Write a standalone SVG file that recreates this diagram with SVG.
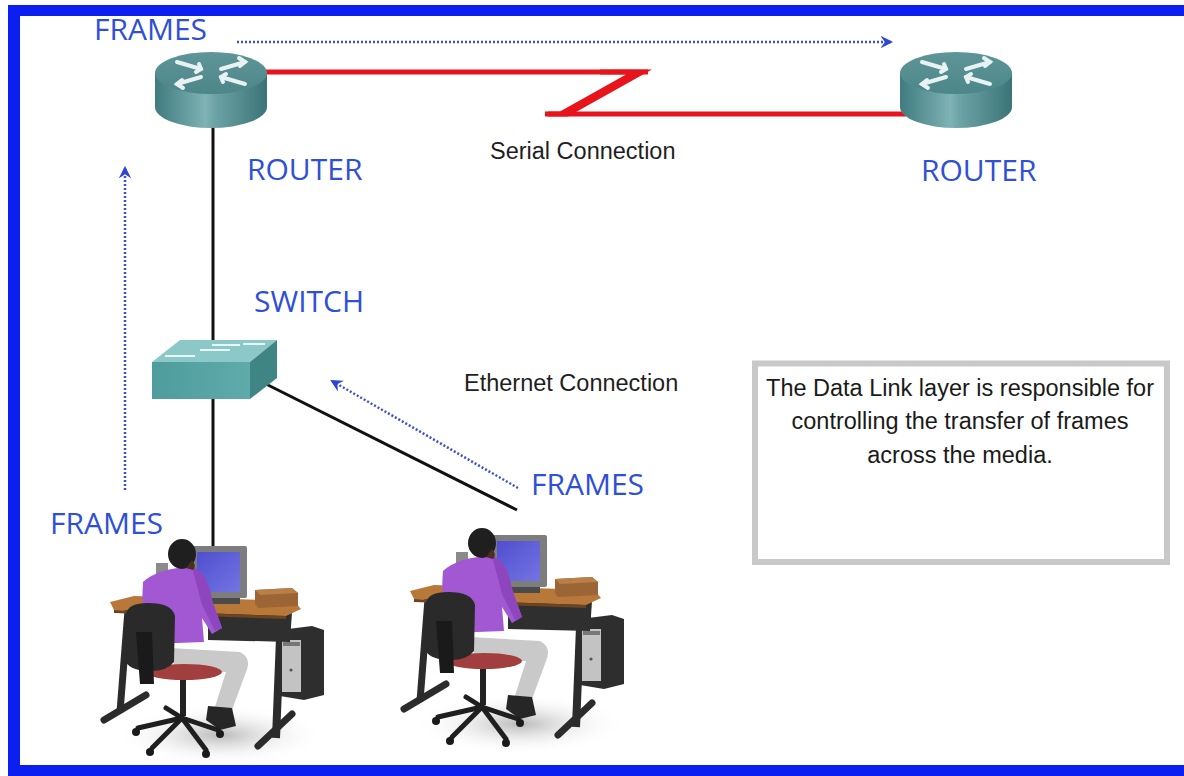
<svg xmlns="http://www.w3.org/2000/svg" width="1184" height="776" viewBox="0 0 1184 776">
  <style>
    .lbl { font-family: "Open Sans", "Liberation Sans", sans-serif; font-size: 30px; fill: #2f4fd6; }
    .cap { font-family: "Liberation Sans", Arial, sans-serif; font-size: 23.5px; fill: #1e1e1e; }
    .note { font-family: "Liberation Sans", Arial, sans-serif; font-size: 23.5px; fill: #1a1a1a; text-anchor: middle; }
    .wire { stroke: #111; stroke-width: 3; fill: none; }
    .flow { stroke: #3a4ed0; stroke-width: 2.5; stroke-dasharray: 2 2; fill: none; }
  </style>
  <defs>
    <marker id="flowHead" viewBox="0 0 12 12" refX="10" refY="6" markerWidth="5" markerHeight="5" orient="auto" markerUnits="strokeWidth">
      <path d="M0,0 L12,6 L0,12 L4,6 Z" fill="#2f45d4"/>
    </marker>
    <linearGradient id="routerBody" x1="0" x2="1" y1="0" y2="0">
      <stop offset="0" stop-color="#3f7b7f"/>
      <stop offset="0.45" stop-color="#7fb2b4"/>
      <stop offset="0.55" stop-color="#6aa1a4"/>
      <stop offset="1" stop-color="#3b7478"/>
    </linearGradient>
    <linearGradient id="routerTop" x1="0" x2="0" y1="0" y2="1">
      <stop offset="0" stop-color="#5f9598"/>
      <stop offset="1" stop-color="#4c8689"/>
    </linearGradient>
    <linearGradient id="switchFront" x1="0" x2="1" y1="0" y2="0">
      <stop offset="0" stop-color="#4f9c9c"/>
      <stop offset="1" stop-color="#5fabab"/>
    </linearGradient>
    <radialGradient id="floorShade" cx="0.5" cy="0.5" r="0.5">
      <stop offset="0" stop-color="#b8b8b8"/>
      <stop offset="1" stop-color="#ffffff" stop-opacity="0"/>
    </radialGradient>
    <linearGradient id="screen" x1="0" x2="1" y1="0" y2="1">
      <stop offset="0" stop-color="#4f4fd0"/>
      <stop offset="1" stop-color="#7474e2"/>
    </linearGradient>

    <!-- router: cylinder with four white arrows on the lid -->
    <g id="router">
      <path d="M-56,0 L-56,34 A56,21 0 0 0 56,34 L56,0 Z" fill="url(#routerBody)"/>
      <ellipse cx="0" cy="0" rx="56" ry="21" fill="url(#routerTop)"/>
      <g stroke="#e8f2f2" stroke-width="4" stroke-linecap="round" fill="none">
        <path d="M-34,-11 L-10,-4"/>
        <path d="M-12,-9 L-10,-4 L-15,-1"/>
        <path d="M34,-11 L10,-4"/>
        <path d="M28,-15 L34,-11 L29,-7"/>
        <path d="M-10,4 L-34,11"/>
        <path d="M-29,7 L-34,11 L-28,15"/>
        <path d="M10,4 L34,11"/>
        <path d="M12,9 L10,4 L15,1"/>
      </g>
    </g>

    <!-- workstation: user at a desk with monitor and tower -->
    <g id="workstation">
      <ellipse cx="120" cy="205" rx="105" ry="30" fill="url(#floorShade)"/>
      <!-- desk legs -->
      <path d="M28,80 L20,182" stroke="#2b2b2b" stroke-width="7" fill="none"/>
      <path d="M4,190 L46,165" stroke="#2b2b2b" stroke-width="7" stroke-linecap="round" fill="none"/>
      <path d="M180,108 L176,208" stroke="#2b2b2b" stroke-width="8" fill="none"/>
      <path d="M158,216 L192,184" stroke="#2b2b2b" stroke-width="7" stroke-linecap="round" fill="none"/>
      <!-- tower -->
      <path d="M180,100 L212,96 L224,100 L224,165 L204,170 L180,166 Z" fill="#2e2e2e"/>
      <rect x="182" y="110" width="19" height="52" fill="#c3c3c3"/>
      <rect x="183" y="112" width="17" height="4" fill="#777"/>
      <circle cx="191" cy="140" r="1.6" fill="#555"/>
      <!-- modesty panel -->
      <path d="M108,80 L192,82 L190,112 L108,110 Z" fill="#2f2f2f"/>
      <!-- desk top -->
      <path d="M10,72 L34,66 L194,71 L201,79 L186,86 L14,80 Z" fill="#b7783a"/>
      <path d="M14,80 L186,86 L186,89 L14,83 Z" fill="#6b4420"/>
      <!-- box on desk -->
      <path d="M155,60 L192,58 L198,63 L198,76 L158,78 L155,74 Z" fill="#9b6535"/>
      <path d="M155,60 L192,58 L198,63 L160,65 Z" fill="#b97f48"/>
      <!-- monitor -->
      <rect x="92" y="16" width="55" height="52" rx="2" fill="#7d7d7d"/>
      <rect x="97" y="22" width="43" height="40" fill="url(#screen)"/>
      <rect x="108" y="68" width="32" height="6" fill="#4a4a4a"/>
      <!-- item left of head -->
      <rect x="56" y="33" width="12" height="24" fill="#8a8a8a"/>
      <!-- person -->
      <path d="M70,118 L140,122 Q152,128 146,142 L132,180 L114,180 L126,142 L76,142 Z" fill="#c9c9c9"/>
      <path d="M108,176 L132,178 L136,196 L120,200 L106,190 Z" fill="#262626"/>
      <path d="M43,52 Q58,38 92,37 Q108,42 112,70 L122,98 L112,104 L102,88 L104,112 L50,114 Q40,84 43,52 Z" fill="#a158d2"/>
      <path d="M92,37 Q108,42 112,70 L122,98 L115,101 L102,75 Z" fill="#8d46bd"/>
      <ellipse cx="82" cy="24" rx="14" ry="15" fill="#1f1f1f"/>
      <path d="M92,30 Q97,36 93,40 L86,38 Z" fill="#4a2e22"/>
      <!-- chair -->
      <ellipse cx="84" cy="142" rx="38" ry="8" fill="#a33e3e"/>
      <path d="M26,84 Q28,73 48,73 Q72,73 75,86 L74,132 Q66,142 48,141 Q28,140 25,130 Z" fill="#2a2a2a"/>
      <path d="M36,102 L52,102 L54,154 L40,154 Z" fill="#1a1a1a"/>
      <path d="M80,150 L86,150 L86,186 L80,186 Z" fill="#222"/>
      <g stroke="#1f1f1f" stroke-width="5" stroke-linecap="round">
        <path d="M82,188 L38,198"/>
        <path d="M82,188 L52,218"/>
        <path d="M82,188 L106,220"/>
        <path d="M82,188 L118,200"/>
        <path d="M82,188 L66,178"/>
      </g>
      <g fill="#1a1a1a">
        <circle cx="36" cy="202" r="4"/>
        <circle cx="50" cy="222" r="4"/>
        <circle cx="106" cy="224" r="4"/>
        <circle cx="120" cy="204" r="4"/>
      </g>
    </g>
  </defs>

  <!-- page and blue frame -->
  <rect x="0" y="0" width="1184" height="776" fill="#ffffff"/>
  <rect x="8" y="5" width="1176" height="11" fill="#0a1ff0"/>
  <rect x="8" y="5" width="12" height="771" fill="#0a1ff0"/>
  <rect x="8" y="765" width="1176" height="11" fill="#0a1ff0"/>

  <!-- connectors -->
  <g id="connectors">
    <line class="wire" x1="213" y1="125" x2="213" y2="345"/>
    <line class="wire" x1="213" y1="398" x2="213" y2="548"/>
    <line class="wire" x1="262" y1="382" x2="517" y2="510"/>
    <g id="serial-link" fill="#e8141c">
      <path d="M266,72 L648,72 M548,114 L906,114" stroke="#e8141c" stroke-width="5" fill="none"/>
      <polygon points="600,69.5 652,69.5 568,116.5 545,116.5 545,111.5 560,111.5 626,74.5 600,74.5"/>
    </g>
    <line class="flow" x1="237" y1="42" x2="891" y2="42" marker-end="url(#flowHead)"/>
    <line class="flow" x1="125" y1="490" x2="125" y2="168" marker-end="url(#flowHead)"/>
    <line class="flow" x1="518" y1="488" x2="332" y2="381" marker-end="url(#flowHead)"/>
  </g>

  <g id="router-left">
    <use href="#router" x="211" y="73"/>
    <text class="lbl" x="247" y="180">ROUTER</text>
  </g>
  <g id="router-right">
    <use href="#router" x="956" y="73"/>
    <text class="lbl" x="921" y="181">ROUTER</text>
  </g>

  <g id="switch">
    <path d="M180,340 L277,340 L250,362 L152,362 Z" fill="#8cc8c8"/>
    <path d="M165,356 L195,356 M200,350 L230,350 M212,345 L240,345 M243,344 L265,344" stroke="#e8f6f6" stroke-width="2" fill="none"/>
    <rect x="152" y="362" width="98" height="37" fill="url(#switchFront)"/>
    <path d="M250,362 L277,340 L277,378 L250,399 Z" fill="#3f8585"/>
    <text class="lbl" x="254" y="312">SWITCH</text>
  </g>

  <g id="pc-left">
    <use href="#workstation" x="100" y="530"/>
  </g>
  <g id="pc-right">
    <use href="#workstation" x="400" y="519"/>
  </g>

  <g id="labels">
    <text class="lbl" x="94" y="40">FRAMES</text>
    <text class="lbl" x="50" y="534">FRAMES</text>
    <text class="lbl" x="531" y="495">FRAMES</text>
    <text class="cap" x="490" y="159">Serial Connection</text>
    <text class="cap" x="464" y="391">Ethernet Connection</text>
  </g>

  <g id="note-box">
    <rect x="755" y="363.5" width="412" height="198.5" fill="#ffffff" stroke="#c8c8c8" stroke-width="6"/>
    <text class="note" x="960" y="396">The Data Link layer is responsible for</text>
    <text class="note" x="960" y="429">controlling the transfer of frames</text>
    <text class="note" x="960" y="463">across the media.</text>
  </g>
</svg>
